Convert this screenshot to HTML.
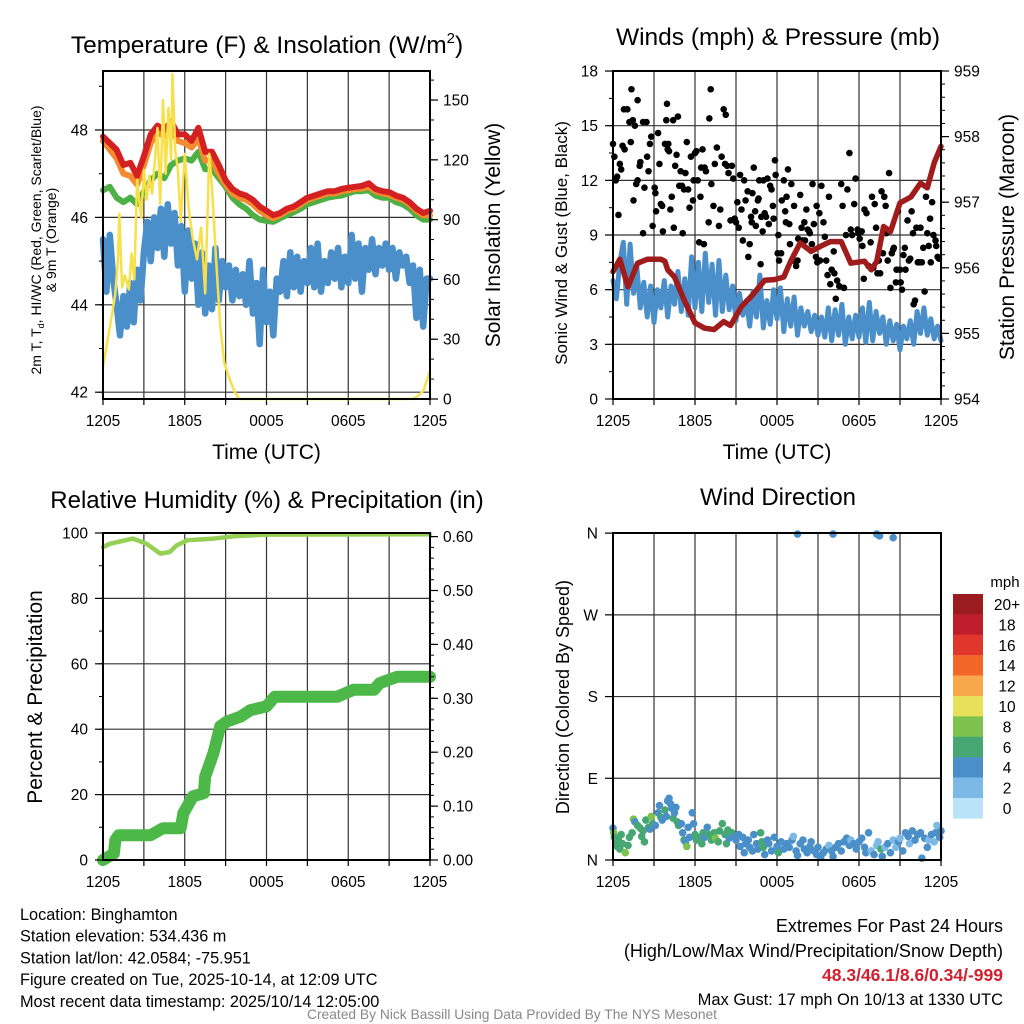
<!DOCTYPE html>
<html><head><meta charset="utf-8">
<style>
html,body{margin:0;padding:0;background:#fff;}
svg{display:block;font-family:"Liberation Sans",Arial,sans-serif;}
</style></head>
<body>
<svg id="c" width="1024" height="1024" viewBox="0 0 1024 1024" xmlns="http://www.w3.org/2000/svg"></svg>
<script>
// ---------- DATA ----------
const hourTicks = [0,3,6,9,12,15,18,21,24];
const timeLabels = ["1205","1805","0005","0605","1205"];
const tempTicks = [42,44,46,48];
const insTicks = [0,30,60,90,120,150];
const windTicks = [0,3,6,9,12,15,18];
const presTicks = [954,955,956,957,958,959];
const rhTicks = [0,20,40,60,80,100];
const precipTicks = [0,0.1,0.2,0.3,0.4,0.5,0.6];
const precipTickLabels = ["0.00","0.10","0.20","0.30","0.40","0.50","0.60"];
const dirTicks = [0,90,180,270,360];
const dirLabels = ["N","E","S","W","N"];

const tempRed = [47.85,47.7,47.55,47.2,47.25,46.95,47.4,47.9,48.1,48.0,48.2,47.9,47.9,47.75,48.05,47.5,47.5,47.2,46.85,46.65,46.55,46.5,46.4,46.25,46.15,46.05,46.1,46.2,46.25,46.35,46.45,46.5,46.55,46.6,46.6,46.65,46.68,46.7,46.72,46.78,46.65,46.6,46.58,46.5,46.45,46.35,46.2,46.1,46.15];
const tempOrange = [47.75,47.55,47.35,47.0,46.95,46.75,47.2,47.7,47.95,47.85,48.0,47.75,47.7,47.6,47.8,47.3,47.3,47.0,46.75,46.55,46.45,46.4,46.3,46.15,46.05,45.98,46.05,46.15,46.2,46.3,46.4,46.45,46.5,46.55,46.55,46.6,46.62,46.65,46.66,46.7,46.6,46.55,46.52,46.45,46.4,46.3,46.15,46.05,46.05];
const tempGreen = [46.62,46.7,46.45,46.35,46.45,46.3,46.6,46.85,47.0,46.9,47.2,47.3,47.35,47.3,47.5,47.1,47.1,46.9,46.7,46.45,46.3,46.2,46.05,45.95,45.92,45.9,45.98,46.05,46.12,46.2,46.3,46.35,46.4,46.45,46.48,46.5,46.55,46.6,46.6,46.62,46.5,46.45,46.45,46.35,46.3,46.2,46.05,45.95,45.95];
const dewBlue = [45.5,44.3,45.6,44.6,44.0,43.3,44.2,43.5,44.5,43.6,44.8,44.1,45.2,45.9,45.0,46.0,45.3,46.2,45.1,46.3,45.4,46.1,44.9,45.8,44.3,45.7,44.6,45.4,44.0,45.2,43.8,44.9,43.9,45.3,44.1,45.0,44.4,44.9,44.1,44.8,44.2,44.7,44.0,45.0,43.8,44.5,43.1,44.8,43.6,44.3,43.3,44.6,44.3,45.0,44.2,45.2,44.4,45.1,44.3,45.0,44.5,45.3,44.4,45.4,44.3,45.0,44.5,45.2,44.6,45.3,44.4,45.1,44.5,45.6,44.6,45.4,44.3,45.3,44.8,45.5,44.7,45.3,44.9,45.4,44.8,45.3,44.6,45.2,44.9,45.1,44.5,44.9,43.7,44.8,43.5,44.6,44.6];
const insTime = [0,0.3,0.6,0.9,1.1,1.2,1.4,1.6,1.9,2.1,2.3,2.5,2.8,3.0,3.2,3.4,3.6,4.0,4.2,4.4,4.6,4.8,5.0,5.1,5.3,5.5,5.7,6.0,6.3,6.6,6.9,7.2,7.5,7.8,8.0,8.3,8.6,8.9,9.3,9.7,10.0,22.6,23.0,23.5,23.8,24.0];
const insValue = [16,28,40,53,70,93,56,62,55,73,60,110,91,115,100,112,103,136,98,150,113,146,120,163,125,115,89,123,95,80,70,86,53,123,106,70,37,18,10,3,0,0,1,4,10,14];

const windBlue = [6.5,5.5,7.5,8.6,5.2,8.5,5.8,7.2,5.0,6.4,4.5,6.2,4.2,6.0,5.0,6.5,4.5,6.2,5.2,7.0,4.8,6.6,4.6,7.8,5.0,7.5,4.8,8.0,5.3,7.4,4.6,7.6,4.8,6.8,4.9,6.2,4.3,5.8,4.6,5.4,4.0,5.9,4.5,6.8,3.9,5.4,4.1,6.0,4.4,6.1,3.7,5.5,4.0,5.6,3.5,5.0,4.0,4.8,3.7,4.6,3.5,4.5,3.4,5.0,3.2,4.9,3.5,5.2,3.0,4.5,3.3,4.6,3.4,5.0,3.1,5.3,3.2,4.8,3.6,4.5,3.0,4.3,3.2,4.1,2.7,4.0,3.3,4.3,3.0,4.8,3.6,5.0,3.5,4.4,3.3,4.0,3.2];
const presTime = [0,0.5,1.1,1.8,2.5,3.5,3.8,4.0,4.5,5.2,6.0,6.7,7.4,8.1,8.6,9.4,10.1,11.1,11.8,12.5,13.0,13.7,14.5,15.2,15.9,16.7,17.4,18.4,18.9,19.3,19.8,20.3,21.0,21.8,22.5,23.0,23.5,24.0];
const presValue = [955.94,956.13,955.71,956.07,956.13,956.13,956.1,955.97,955.86,955.51,955.16,955.08,955.06,955.18,955.12,955.41,955.56,955.81,955.82,955.86,956.1,956.38,956.25,956.33,956.4,956.4,956.07,956.1,955.97,956.1,956.63,956.55,956.99,957.08,957.29,957.22,957.6,957.85];
const gustTime = [0,0.1,0.2,0.3,0.4,0.5,0.6,0.7,0.85,0.8,1.05,1.2,1.3,1.35,1.45,1.5,1.6,1.7,1.8,1.8,1.95,2.0,2.2,2.3,2.2,2.45,2.5,2.6,2.7,2.8,2.9,3.05,3.1,3.15,3.3,3.4,3.5,3.6,3.65,3.8,3.9,3.95,4.0,4.05,4.1,4.2,4.3,4.4,4.45,4.55,4.65,4.75,4.85,4.95,5.05,5.1,5.2,5.3,5.4,5.5,5.6,5.7,5.85,5.9,6.0,6.1,6.2,6.3,6.4,6.45,6.55,6.65,6.7,6.8,7.0,7.05,7.15,7.2,7.35,7.45,7.6,7.75,7.85,7.95,8.1,8.2,8.25,8.35,8.45,8.6,8.7,8.8,8.9,9.0,9.1,9.2,9.3,9.4,9.5,9.6,9.7,9.85,9.9,10.0,10.1,10.15,10.2,10.3,10.4,10.45,10.6,10.65,10.7,10.8,10.85,10.95,11.0,11.1,11.2,11.3,11.4,11.5,11.6,11.7,11.75,11.85,11.9,12.05,12.1,12.15,12.3,12.35,12.5,12.6,12.65,12.7,12.8,12.9,12.95,13.05,13.15,13.25,13.4,13.5,13.55,13.7,13.8,13.85,14.0,14.05,14.15,14.25,14.35,14.4,14.55,14.6,14.7,14.85,14.9,14.95,15.1,15.15,15.25,15.4,15.5,15.6,15.7,15.8,15.9,16.0,16.15,16.2,16.3,16.4,16.55,16.7,16.8,16.9,17.05,17.15,17.3,17.4,17.5,17.65,17.75,17.9,17.95,18.05,18.2,18.25,18.35,18.4,18.55,18.7,18.85,18.95,19.05,19.15,19.25,19.35,19.45,19.55,19.65,19.75,19.85,19.95,20.0,20.1,20.2,20.3,20.4,20.5,20.55,20.7,20.75,20.85,21.0,21.05,21.15,21.25,21.35,21.4,21.55,21.65,21.75,21.85,21.95,22.0,22.1,22.2,22.3,22.4,22.5,22.6,22.7,22.8,22.9,23.0,23.1,23.2,23.25,23.35,23.45,23.6,23.65,23.75,23.85];
const gustValue = [14.0,13.3,12.0,12.2,10.1,12.9,12.6,13.9,13.7,15.9,15.9,15.2,14.1,17.0,15.3,10.9,15.0,11.8,16.4,12.0,12.8,13.0,9.1,11.6,15.2,15.2,13.3,12.5,14.0,14.4,9.5,11.6,11.3,10.3,14.6,12.9,10.7,10.6,9.2,14.0,15.3,16.2,13.7,14.0,13.6,10.4,11.1,15.3,9.4,12.8,13.4,15.5,11.7,12.5,11.7,9.1,11.5,12.4,14.1,11.5,10.5,13.3,10.9,12.0,13.5,13.6,12.0,8.6,11.1,12.7,13.7,8.5,12.7,12.5,9.7,15.4,17.0,11.8,10.6,12.9,13.8,9.5,10.4,13.3,15.9,12.9,15.6,12.8,12.4,9.8,12.8,12.1,9.9,9.7,10.8,9.4,12.3,10.4,8.7,12.0,10.9,11.4,7.8,8.5,10.0,9.7,11.3,12.7,10.3,9.5,10.9,11.0,12.0,7.4,10.0,9.2,12.0,10.2,10.0,12.1,9.6,11.7,11.5,10.6,9.9,13.1,12.3,8.0,9.0,7.6,8.0,10.9,12.0,10.3,9.7,11.1,12.6,9.6,8.5,11.8,7.6,10.6,7.3,7.6,8.8,11.2,9.4,8.7,9.7,8.7,10.4,9.3,9.2,9.1,8.5,11.8,9.6,7.8,10.6,7.5,10.2,7.6,11.7,9.7,8.9,7.6,6.8,11.1,6.3,7.1,8.1,6.9,5.5,6.5,6.2,11.8,10.6,6.1,9.0,11.5,13.5,9.3,9.0,10.7,12.1,9.3,9.1,8.8,9.2,8.4,6.6,10.4,10.2,7.3,8.6,11.1,7.2,10.7,9.4,6.9,7.6,6.9,11.4,8.0,11.1,10.6,9.1,7.6,12.4,6.1,8.0,8.2,8.3,6.4,7.1,10.3,7.1,6.4,6.0,7.9,8.3,7.1,9.8,7.6,7.7,10.3,9.1,5.2,5.4,9.4,7.5,7.5,9.4,7.5,8.3,5.9,11.1,9.1,8.4,9.9,7.5,10.8,9.0,8.7,8.4,7.8,7.7];

const rhTime = [0,0.5,2.2,3.2,4.2,4.9,5.4,6.2,8.1,9.6,12.0,24.0];
const rhValue = [95.7,96.7,98.3,96.7,93.7,94.2,96.2,97.8,98.3,99.0,99.5,99.6];
const precipTime = [0,0.8,0.9,1.15,3.5,4.4,5.7,5.9,6.6,7.4,7.5,8.1,8.6,9.1,10.1,10.8,12.0,12.6,17.2,18.4,19.9,20.3,21.6,24.0];
const precipValue = [0,0.012,0.037,0.046,0.046,0.059,0.059,0.087,0.118,0.124,0.155,0.198,0.248,0.257,0.266,0.278,0.285,0.303,0.303,0.316,0.316,0.328,0.34,0.34];

const dirTime = [0,0.05,0.1,0.2,0.3,0.4,0.5,0.6,0.7,0.9,1.1,1.2,1.4,1.5,1.6,1.8,2.0,2.1,2.2,2.3,2.4,2.6,2.7,2.8,2.9,3.1,3.3,3.4,3.5,3.6,3.8,3.9,4.0,4.1,4.2,4.3,4.4,4.5,4.6,4.7,4.8,5.0,5.1,5.2,5.3,5.4,5.5,5.6,5.8,5.9,6.0,6.1,6.3,6.5,6.6,6.7,6.9,7.0,7.2,7.4,7.5,7.7,7.8,8.0,8.2,8.3,8.4,8.5,8.7,8.9,9.0,9.2,9.3,9.5,9.6,9.7,9.9,10.0,10.2,10.3,10.5,10.6,10.8,10.9,11.0,11.1,11.3,11.4,11.6,11.8,12.0,12.1,12.3,12.5,12.7,12.9,13.1,13.2,13.4,13.5,13.7,13.9,14.0,14.2,14.4,14.5,14.7,14.9,15.0,15.2,15.4,15.6,15.8,16.0,16.1,16.3,16.5,16.7,16.9,17.1,17.3,17.4,17.6,17.8,18.0,18.2,18.4,18.5,18.7,18.9,19.1,19.3,19.4,19.6,19.7,19.9,20.1,20.3,20.5,20.7,20.9,21.0,21.2,21.4,21.6,21.7,21.9,22.1,22.3,22.5,22.6,22.8,23.0,23.1,23.3,23.5,23.6,23.7,23.9,24.0,13.5,16.1,19.3,19.5,20.5];
const dirValue = [35,30,25,20,15,22,12,28,18,8,16,25,30,45,42,38,35,26,32,20,44,36,34,48,40,38,52,60,47,44,55,48,65,68,62,57,46,52,58,42,38,40,30,22,20,15,36,25,52,40,28,22,25,18,30,25,36,28,22,30,24,20,32,40,28,18,33,24,30,26,22,28,15,25,8,18,22,14,10,28,18,12,30,20,14,6,22,18,10,25,15,8,20,12,18,14,22,26,10,5,18,22,12,8,15,20,10,6,14,3,8,12,16,10,4,14,18,10,20,24,16,22,18,12,20,24,14,8,30,10,6,16,20,12,4,14,18,8,22,14,20,24,10,30,26,18,32,22,28,30,2,24,14,22,28,20,30,38,25,32,359,359,359,357,355];
const dirSpeed = [4,8,6,6,6,6,6,6,6,8,6,6,6,8,4,6,6,6,6,6,6,6,4,8,6,4,4,4,6,4,6,4,4,4,4,4,6,4,4,6,6,4,4,6,4,8,4,4,4,4,6,6,6,6,6,4,4,6,6,6,8,6,6,6,6,6,6,4,6,4,4,4,4,4,4,4,4,4,4,4,4,4,6,6,6,4,4,4,4,4,4,6,4,4,4,4,4,2,4,4,4,4,4,4,4,4,4,4,4,4,4,4,2,4,4,4,4,4,4,4,4,2,4,4,4,4,4,4,4,2,4,2,2,6,4,2,4,4,2,2,4,2,4,4,4,2,4,4,4,4,4,4,4,2,4,2,4,2,4,4,4,4,4,4,4];

const cbLabels = ["20+","18","16","14","12","10","8","6","4","2","0"];
const cbColors = ["#9b1b1e","#bf1e2d","#e0362b","#f26628","#f9a849","#e8e05a","#7dc24c","#47a772","#4a8fc8","#7db9e6","#b8e3f8"];

// ---------- HELPERS ----------
const NS="http://www.w3.org/2000/svg";
const svg=document.getElementById('c');
function mk(tag,attrs,parent){const e=document.createElementNS(NS,tag);for(const k in attrs)e.setAttribute(k,attrs[k]);(parent||svg).appendChild(e);return e;}
function txt(s,x,y,size,anchor,parent,extra){const t=mk('text',Object.assign({x:x,y:y,'font-size':size,'text-anchor':anchor||'middle',fill:'#000'},extra||{}),parent);t.textContent=s;return t;}
function speedColor(s){const i=Math.min(10,Math.floor(s/2));return cbColors[10-i];}
const TICK=15.5;

function panel(name,x0,x1,y0,y1){
  const g=mk('g',{});
  
  
  const xs=t=>x0+(x1-x0)*t/24;
  return {g,x0,x1,y0,y1,xs};
}
function drawFrame(p,hGrid,yL){
  const G=mk('g',{},p.g);
  
  
  hourTicks.forEach(h=>{mk('line',{x1:p.xs(h),x2:p.xs(h),y1:p.y0,y2:p.y1,stroke:'#333','stroke-width':1.2},G);
    mk('line',{x1:p.xs(h),x2:p.xs(h),y1:p.y1,y2:p.y1+6,stroke:'#000','stroke-width':1.2},G);});
  hGrid.forEach(v=>{const y=yL(v);mk('line',{x1:p.x0,x2:p.x1,y1:y,y2:y,stroke:'#333','stroke-width':1.2},G);});
}
function drawBorder(p){
  const b=mk('rect',{x:p.x0,y:p.y0,width:p.x1-p.x0,height:p.y1-p.y0,fill:'none',stroke:'#000','stroke-width':2},p.g);
  
  
}
function xLabels(p,title){
  const G=mk('g',{},p.g);
  
  
  timeLabels.forEach((s,i)=>txt(s,p.xs(i*6),p.y1+27,TICK,'middle',G));
  if(title){const t=txt(title,(p.x0+p.x1)/2,p.y1+60,21,'middle',G);}
}
function leftAxis(p,ticks,labels,yf,minorStep,name){
  const G=mk('g',{},p.g);
  
  
  ticks.forEach((v,i)=>{const y=yf(v);mk('line',{x1:p.x0-8,x2:p.x0,y1:y,y2:y,stroke:'#000','stroke-width':1.2},G);
    txt(labels[i],p.x0-15,y+5.5,TICK,'end',G);});
  if(minorStep){for(let v=ticks[0];v<=ticks[ticks.length-1]+minorStep+1e-9;v+=minorStep){const y=yf(v);if(y<p.y0||y>p.y1)continue;mk('line',{x1:p.x0-4,x2:p.x0,y1:y,y2:y,stroke:'#000','stroke-width':1},G);}}
}
function rightAxis(p,ticks,labels,yf,minorStep,name){
  const G=mk('g',{},p.g);
  
  
  ticks.forEach((v,i)=>{const y=yf(v);mk('line',{x1:p.x1,x2:p.x1+8,y1:y,y2:y,stroke:'#000','stroke-width':1.2},G);
    txt(labels[i],p.x1+13,y+5.5,TICK,'start',G);});
  if(minorStep){for(let v=ticks[0];v<=ticks[ticks.length-1]+minorStep+1e-9;v+=minorStep){const y=yf(v);if(y<p.y0||y>p.y1)continue;mk('line',{x1:p.x1,x2:p.x1+4,y1:y,y2:y,stroke:'#000','stroke-width':1},G);}}
}
function line(p,ts,vs,yf,color,w,name){
  let d='';ts.forEach((t,i)=>{d+=(i?'L':'M')+p.xs(t).toFixed(1)+','+yf(vs[i]).toFixed(1);});
  const e=mk('path',{d:d,fill:'none',stroke:color,'stroke-width':w,'stroke-linejoin':'round','stroke-linecap':'round'},p.g);
  
  
}
function vtitle(s,x,y,size,parent,name){const t=txt(s,x,y,size,'middle',parent,{transform:'rotate(-90 '+x+' '+y+')'});return t;}
const halfHours=tempRed.map((_,i)=>i*0.5);
const quarterHours=dewBlue.map((_,i)=>i*0.25);

// ---------- PANEL 1 ----------
{
 const p=panel('temperature-panel',103,430,71,399);
 const yT=v=>130+(48-v)*43.7, yI=v=>399-v*1.993;
 drawFrame(p,tempTicks,yT);
 line(p,quarterHours,dewBlue,yT,'#4a8fca',6.5,'dewpoint-line');
 line(p,halfHours,tempGreen,yT,'#4cb044',6,'heat-index-line');
 line(p,halfHours,tempOrange,yT,'#f58a2e',6,'temp-9m-line');
 line(p,halfHours,tempRed,yT,'#d42020',6,'temp-2m-line');
 line(p,insTime,insValue,yI,'#f7e04a',2.5,'insolation-line');
 drawBorder(p);
 leftAxis(p,tempTicks,tempTicks.map(String),yT,1,'y-axis-temp');
 rightAxis(p,insTicks,insTicks.map(String),yI,10,'y-axis-insolation');
 xLabels(p,'Time (UTC)');
 const t=mk('text',{x:267,y:53,'font-size':24.5,'text-anchor':'middle'},p.g);
 
 t.innerHTML='Temperature (F) &amp; Insolation (W/m<tspan font-size="15" dy="-10">2</tspan><tspan dy="10">)</tspan>';
 const a=mk('text',{x:0,y:0,'font-size':14,'text-anchor':'middle',transform:'translate(41 240) rotate(-90)'},p.g);
 
 a.innerHTML='2m T, T<tspan font-size="9" dy="3">d</tspan><tspan dy="-3">, HI/WC (Red, Green, Scarlet/Blue)</tspan>';
 const a2=mk('text',{x:0,y:0,'font-size':14,'text-anchor':'middle',transform:'translate(56 240) rotate(-90)'},p.g);
 
 a2.textContent='& 9m T (Orange)';
 vtitle('Solar Insolation (Yellow)',500,235,21,p.g,'y-axis-title-insolation');
}
// ---------- PANEL 2 ----------
{
 const p=panel('winds-panel',613,941,71,399);
 const yW=v=>399-v*18.22, yP=v=>399-(v-954)*65.6;
 drawFrame(p,windTicks,yW);
 line(p,quarterHours,windBlue,yW,'#4a8fca',5,'sonic-wind-line');
 const G=mk('g',{},p.g);
 
 
 gustTime.forEach((t,i)=>{const c=mk('circle',{cx:p.xs(t),cy:yW(gustValue[i]),r:3.3,fill:'#000'},G);
  });
 line(p,presTime,presValue,yP,'#a01c1c',5.5,'pressure-line');
 drawBorder(p);
 leftAxis(p,windTicks,windTicks.map(String),yW,1.5,'y-axis-wind');
 rightAxis(p,presTicks,presTicks.map(String),yP,0.2,'y-axis-pressure');
 xLabels(p,'Time (UTC)');
 const t=txt('Winds (mph) & Pressure (mb)',778,45,24.5,'middle',p.g);
 
 vtitle('Sonic Wind & Gust (Blue, Black)',567,243,17,p.g,'y-axis-title-wind');
 vtitle('Station Pressure (Maroon)',1014,237,21,p.g,'y-axis-title-pressure');
}
// ---------- PANEL 3 ----------
{
 const p=panel('humidity-panel',103,430,533,860);
 const yR=v=>860-v*3.27, yPr=v=>860-v*539;
 drawFrame(p,rhTicks,yR);
 line(p,precipTime,precipValue,yPr,'#4cb848',12,'precip-line');
 line(p,rhTime,rhValue,yR,'#95d055',4.5,'rh-line');
 drawBorder(p);
 leftAxis(p,rhTicks,rhTicks.map(String),yR,10,'y-axis-rh');
 rightAxis(p,precipTicks,precipTickLabels,yPr,0.02,'y-axis-precip');
 xLabels(p,null);
 const t=txt('Relative Humidity (%) & Precipitation (in)',267,508,24,'middle',p.g);
 
 vtitle('Percent & Precipitation',42,697,21,p.g,'y-axis-title-rh');
}
// ---------- PANEL 4 ----------
{
 const p=panel('direction-panel',613,941,533,860);
 const yD=v=>860-v*0.908;
 drawFrame(p,dirTicks,yD);
 const G=mk('g',{},p.g);
 
 
 dirTime.forEach((t,i)=>{const c=mk('circle',{cx:p.xs(t),cy:yD(dirValue[i]),r:3.8,fill:speedColor(dirSpeed[i])},G);
  });
 drawBorder(p);
 leftAxis(p,dirTicks,dirLabels,yD,null,'y-axis-direction');
 xLabels(p,null);
 const t=txt('Wind Direction',778,505,24,'middle',p.g);
 
 vtitle('Direction (Colored By Speed)',569,697,18,p.g,'y-axis-title-direction');
 const L=mk('g',{},svg);
 
 
 txt('mph',1005,587,15,'middle',L);
 cbColors.forEach((c,i)=>{const r=mk('rect',{x:953,y:594+i*20.4,width:30,height:20.6,fill:c},L);
  
  txt(cbLabels[i],1007,610+i*20.4,15.5,'middle',L);});
}
// ---------- TEXT ----------
{
 const G=mk('g',{});
 
 
 ["Location: Binghamton","Station elevation: 534.436 m","Station lat/lon: 42.0584; -75.951","Figure created on Tue, 2025-10-14, at 12:09 UTC","Most recent data timestamp: 2025/10/14 12:05:00"].forEach((s,i)=>txt(s,20,920+i*21.7,16.3,'start',G));
 const R=mk('g',{});
 
 
 txt('Extremes For Past 24 Hours',1003,932,18,'end',R);
 txt('(High/Low/Max Wind/Precipitation/Snow Depth)',1003,957,18,'end',R);
 const r=txt('48.3/46.1/8.6/0.34/-999',1003,981,17.5,'end',R,{fill:'#d02030','font-weight':'bold'});
 
 txt('Max Gust: 17 mph On 10/13 at 1330 UTC',1003,1005,16.5,'end',R);
 const f=txt('Created By Nick Bassill Using Data Provided By The NYS Mesonet',512,1019,13.8,'middle',svg,{fill:'#888'});
 
 
}
</script>
</body></html>
